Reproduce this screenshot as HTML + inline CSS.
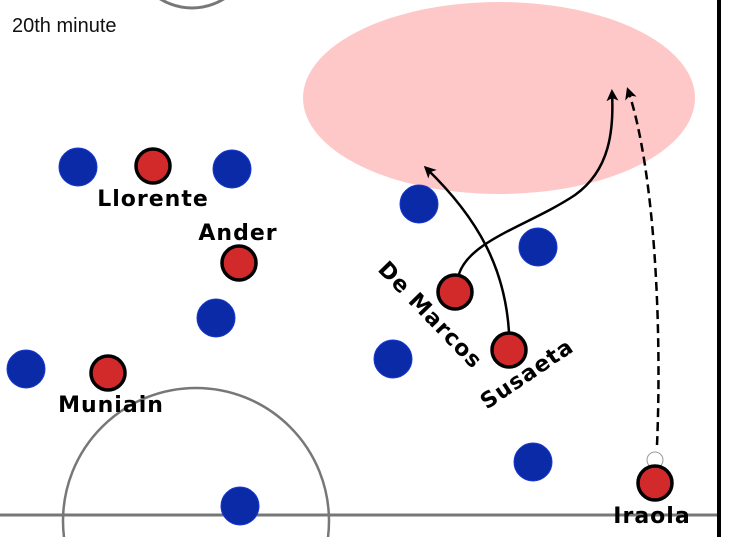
<!DOCTYPE html>
<html><head><style>html,body{margin:0;background:#fff;overflow:hidden;width:730px;height:537px}svg{display:block}</style></head>
<body>
<svg width="730" height="537" viewBox="0 0 730 537" xmlns="http://www.w3.org/2000/svg" font-family="DejaVu Sans, sans-serif">
<rect width="730" height="537" fill="#fff"/>
<ellipse cx="192" cy="-52" rx="60" ry="60" fill="none" stroke="#777" stroke-width="3"/>
<ellipse cx="499" cy="98" rx="196" ry="96" fill="#ffc8c8"/>
<line x1="0" y1="515" x2="718" y2="515" stroke="#777" stroke-width="3"/>
<circle cx="196" cy="521" r="133" fill="none" stroke="#777" stroke-width="2.5"/>
<line x1="719" y1="0" x2="719" y2="537" stroke="#000" stroke-width="4"/>
<text x="12" y="32" font-family="Liberation Sans, sans-serif" font-size="20" fill="#111">20th minute</text>
<defs><marker id="a" markerWidth="12" markerHeight="12" refX="9" refY="6" orient="auto" markerUnits="userSpaceOnUse"><path d="M0,0 L12,6 L0,12 L3,6 z" fill="#000"/></marker></defs>
<path d="M509,332 C505,270 480,220 426,168" fill="none" stroke="#000" stroke-width="2.5" marker-end="url(#a)"/>
<path d="M459,274 C470,240 530,225 575,195 C610,170 614,130 612,92" fill="none" stroke="#000" stroke-width="2.5" marker-end="url(#a)"/>
<path d="M657,445 C662,330 655,170 628,90" fill="none" stroke="#000" stroke-width="2.5" stroke-dasharray="9,5" marker-end="url(#a)"/>
<circle cx="655" cy="460" r="8" fill="#fff" stroke="#999" stroke-width="1"/>
<g fill="#0a2aa8" stroke="#1a3ad0" stroke-width="1">
<circle cx="78" cy="167" r="19"/><circle cx="232" cy="169" r="19"/><circle cx="419" cy="204" r="19"/><circle cx="538" cy="247" r="19"/><circle cx="216" cy="318" r="19"/><circle cx="26" cy="369" r="19"/><circle cx="393" cy="359" r="19"/><circle cx="533" cy="462" r="19"/><circle cx="240" cy="506" r="19"/>
</g>
<g fill="#d22a2a" stroke="#000" stroke-width="3.5">
<circle cx="153" cy="166" r="17"/><circle cx="239" cy="263" r="17"/><circle cx="455" cy="292" r="17"/><circle cx="509" cy="350" r="17"/><circle cx="108" cy="373" r="17"/><circle cx="655" cy="483" r="17"/>
</g>
<g font-weight="bold" font-size="22" fill="#000" text-anchor="middle" letter-spacing="1">
<text x="153" y="206">Llorente</text>
<text x="238" y="240">Ander</text>
<text x="111" y="412">Muniain</text>
<text x="652" y="523">Iraola</text>
<text transform="translate(425,320) rotate(46)">De Marcos</text>
<text transform="translate(531,380) rotate(-34)">Susaeta</text>
</g>
</svg>
</body></html>
